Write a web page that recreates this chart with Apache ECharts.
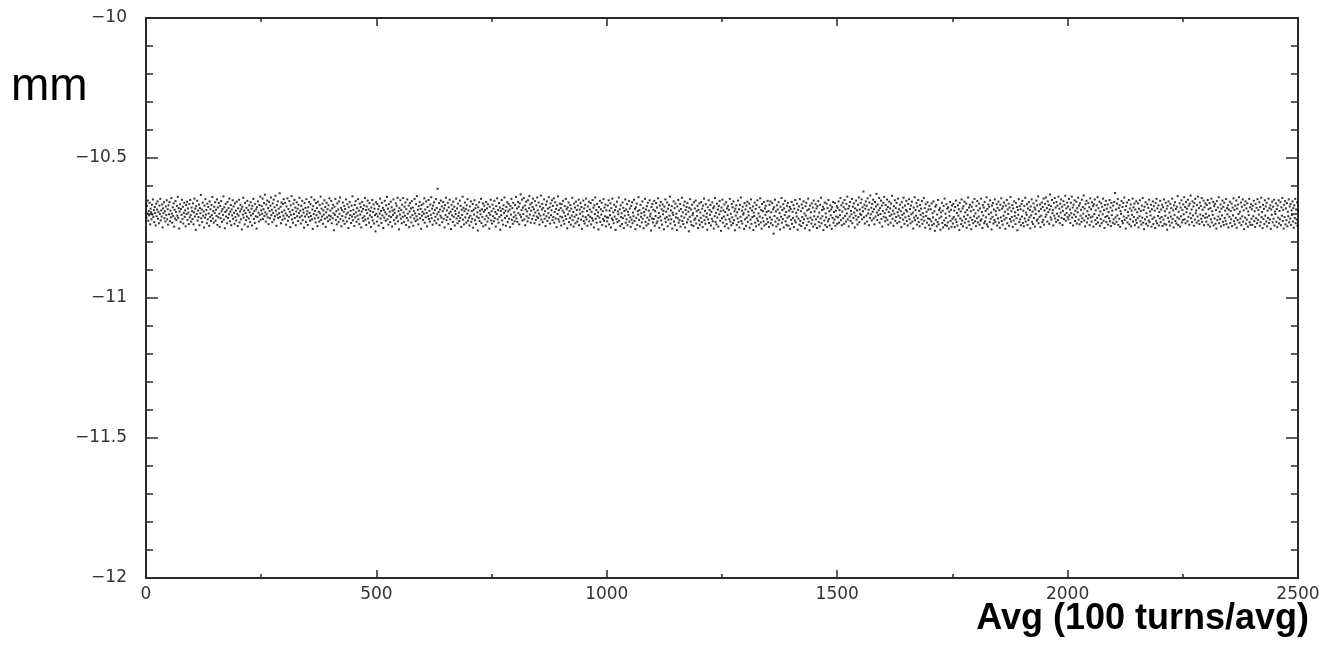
<!DOCTYPE html>
<html><head><meta charset="utf-8">
<script src="https://cdn.jsdelivr.net/npm/echarts@6/dist/echarts.min.js"></script>
<style>html,body{margin:0;padding:0;background:#fff}#c{width:1327px;height:647px}</style>
</head><body><div id="c"></div><script>
// Beam position (mm) per average, x = average index 1..2500
const seg1 = [
-10.713,-10.671,-10.698,-10.652,-10.724,-10.689,-10.705,-10.660,-10.737,-10.681,-10.694,-10.719,-10.667,-10.702,-10.648,-10.711,-10.686,-10.729,-10.675,-10.696,-10.741,-10.663,-10.708,-10.684,-10.655,-10.717,-10.692,-10.733,-10.670,-10.700,-10.646,-10.723,-10.687,-10.709,-10.666,-10.748,-10.680,-10.697,-10.658,-10.715,-10.690,-10.727,-10.673,-10.704,-10.651,-10.719,-10.683,-10.738,-10.669,-10.701,
-10.657,-10.726,-10.688,-10.712,-10.643,-10.699,-10.731,-10.676,-10.707,-10.662,-10.745,-10.685,-10.716,-10.654,-10.693,-10.722,-10.671,-10.706,-10.639,-10.714,-10.679,-10.752,-10.691,-10.665,-10.728,-10.682,-10.703,-10.649,-10.718,-10.674,-10.734,-10.696,-10.660,-10.710,-10.687,-10.744,-10.668,-10.700,-10.656,-10.721,-10.680,-10.695,-10.736,-10.664,-10.712,-10.650,-10.704,-10.727,-10.677,-10.690,
-10.718,-10.662,-10.737,-10.694,-10.645,-10.709,-10.681,-10.757,-10.672,-10.700,-10.653,-10.723,-10.688,-10.711,-10.666,-10.740,-10.679,-10.697,-10.632,-10.715,-10.684,-10.729,-10.659,-10.706,-10.691,-10.748,-10.670,-10.713,-10.647,-10.702,-10.686,-10.733,-10.663,-10.719,-10.675,-10.698,-10.742,-10.655,-10.710,-10.683,-10.725,-10.668,-10.704,-10.639,-10.716,-10.689,-10.731,-10.674,-10.696,-10.658,
-10.724,-10.685,-10.707,-10.648,-10.739,-10.677,-10.712,-10.661,-10.699,-10.746,-10.671,-10.715,-10.654,-10.690,-10.728,-10.682,-10.703,-10.637,-10.720,-10.676,-10.751,-10.693,-10.664,-10.709,-10.687,-10.733,-10.657,-10.714,-10.679,-10.701,-10.645,-10.726,-10.692,-10.668,-10.740,-10.684,-10.705,-10.651,-10.717,-10.673,-10.696,-10.735,-10.662,-10.711,-10.688,-10.723,-10.656,-10.700,-10.743,-10.680,
-10.706,-10.649,-10.730,-10.691,-10.667,-10.719,-10.683,-10.755,-10.674,-10.702,-10.642,-10.713,-10.688,-10.737,-10.660,-10.697,-10.722,-10.678,-10.709,-10.653,-10.745,-10.686,-10.716,-10.669,-10.694,-10.729,-10.658,-10.705,-10.681,-10.741,-10.671,-10.699,-10.646,-10.718,-10.690,-10.732,-10.664,-10.708,-10.684,-10.752,-10.676,-10.711,-10.655,-10.695,-10.727,-10.668,-10.703,-10.638,-10.720,-10.687,
-10.672,-10.699,-10.645,-10.718,-10.683,-10.661,-10.707,-10.631,-10.694,-10.727,-10.666,-10.701,-10.652,-10.712,-10.679,-10.736,-10.657,-10.690,-10.715,-10.670,-10.641,-10.704,-10.685,-10.729,-10.662,-10.696,-10.649,-10.720,-10.676,-10.708,-10.635,-10.688,-10.742,-10.668,-10.702,-10.655,-10.714,-10.681,-10.697,-10.626,-10.710,-10.674,-10.733,-10.659,-10.693,-10.721,-10.664,-10.706,-10.647,-10.687,
-10.716,-10.660,-10.698,-10.738,-10.673,-10.705,-10.644,-10.724,-10.682,-10.710,-10.654,-10.692,-10.747,-10.669,-10.703,-10.636,-10.719,-10.686,-10.731,-10.663,-10.700,-10.650,-10.714,-10.677,-10.740,-10.691,-10.658,-10.708,-10.681,-10.725,-10.667,-10.697,-10.642,-10.712,-10.688,-10.734,-10.671,-10.706,-10.653,-10.722,-10.684,-10.695,-10.749,-10.661,-10.709,-10.678,-10.728,-10.647,-10.701,-10.690,
-10.739,-10.676,-10.711,-10.657,-10.696,-10.724,-10.665,-10.707,-10.640,-10.719,-10.684,-10.753,-10.672,-10.700,-10.649,-10.716,-10.689,-10.730,-10.661,-10.704,-10.679,-10.743,-10.656,-10.713,-10.692,-10.727,-10.668,-10.698,-10.638,-10.721,-10.681,-10.709,-10.663,-10.735,-10.687,-10.702,-10.651,-10.717,-10.675,-10.746,-10.694,-10.660,-10.712,-10.683,-10.726,-10.669,-10.705,-10.644,-10.720,-10.688,
-10.708,-10.653,-10.733,-10.680,-10.715,-10.667,-10.697,-10.758,-10.674,-10.703,-10.646,-10.721,-10.690,-10.737,-10.662,-10.710,-10.684,-10.729,-10.655,-10.699,-10.641,-10.718,-10.678,-10.744,-10.686,-10.707,-10.659,-10.724,-10.692,-10.671,-10.735,-10.682,-10.712,-10.648,-10.701,-10.727,-10.665,-10.695,-10.750,-10.676,-10.716,-10.657,-10.704,-10.689,-10.732,-10.670,-10.709,-10.637,-10.722,-10.685,
-10.700,-10.743,-10.668,-10.712,-10.654,-10.694,-10.728,-10.679,-10.706,-10.647,-10.719,-10.688,-10.736,-10.663,-10.702,-10.675,-10.748,-10.691,-10.657,-10.714,-10.682,-10.725,-10.669,-10.708,-10.643,-10.720,-10.686,-10.739,-10.673,-10.697,-10.652,-10.716,-10.684,-10.731,-10.661,-10.705,-10.690,-10.746,-10.677,-10.711,-10.650,-10.723,-10.693,-10.666,-10.734,-10.681,-10.704,-10.762,-10.658,-10.699
];
const seg2 = [
-10.727,-10.664,-10.709,-10.683,-10.741,-10.672,-10.698,-10.645,-10.716,-10.689,-10.732,-10.660,-10.705,-10.678,-10.750,-10.686,-10.713,-10.653,-10.694,-10.724,-10.669,-10.701,-10.639,-10.719,-10.681,-10.738,-10.665,-10.707,-10.692,-10.729,-10.656,-10.711,-10.676,-10.745,-10.688,-10.703,-10.648,-10.722,-10.684,-10.696,-10.735,-10.662,-10.714,-10.671,-10.708,-10.642,-10.726,-10.690,-10.755,-10.679,
-10.702,-10.651,-10.717,-10.686,-10.733,-10.667,-10.710,-10.643,-10.695,-10.728,-10.674,-10.706,-10.659,-10.739,-10.683,-10.714,-10.648,-10.699,-10.723,-10.670,-10.747,-10.691,-10.661,-10.712,-10.680,-10.730,-10.654,-10.704,-10.677,-10.742,-10.689,-10.716,-10.646,-10.698,-10.725,-10.665,-10.708,-10.636,-10.720,-10.685,-10.737,-10.672,-10.700,-10.657,-10.715,-10.682,-10.753,-10.668,-10.706,-10.692,
-10.721,-10.663,-10.699,-10.644,-10.731,-10.684,-10.712,-10.655,-10.696,-10.744,-10.675,-10.708,-10.650,-10.718,-10.689,-10.727,-10.666,-10.703,-10.640,-10.715,-10.681,-10.738,-10.670,-10.697,-10.658,-10.724,-10.686,-10.710,-10.647,-10.733,-10.678,-10.701,-10.610,-10.719,-10.693,-10.661,-10.740,-10.684,-10.706,-10.652,-10.713,-10.673,-10.729,-10.690,-10.657,-10.717,-10.680,-10.748,-10.668,-10.704,
-10.642,-10.722,-10.687,-10.711,-10.660,-10.735,-10.676,-10.698,-10.649,-10.719,-10.692,-10.754,-10.667,-10.705,-10.683,-10.728,-10.656,-10.710,-10.674,-10.741,-10.689,-10.700,-10.645,-10.716,-10.680,-10.733,-10.663,-10.707,-10.695,-10.725,-10.652,-10.714,-10.671,-10.746,-10.685,-10.703,-10.638,-10.720,-10.678,-10.737,-10.690,-10.659,-10.712,-10.682,-10.731,-10.669,-10.699,-10.647,-10.724,-10.687,
-10.713,-10.741,-10.673,-10.706,-10.655,-10.728,-10.690,-10.717,-10.664,-10.749,-10.685,-10.702,-10.651,-10.722,-10.679,-10.736,-10.668,-10.709,-10.694,-10.759,-10.676,-10.714,-10.658,-10.725,-10.688,-10.701,-10.646,-10.732,-10.683,-10.711,-10.662,-10.744,-10.692,-10.670,-10.719,-10.686,-10.739,-10.657,-10.707,-10.680,-10.727,-10.665,-10.715,-10.696,-10.752,-10.674,-10.703,-10.649,-10.723,-10.690,
-10.734,-10.667,-10.708,-10.681,-10.726,-10.653,-10.715,-10.693,-10.745,-10.672,-10.700,-10.644,-10.719,-10.686,-10.731,-10.661,-10.710,-10.677,-10.756,-10.689,-10.704,-10.650,-10.723,-10.682,-10.738,-10.669,-10.696,-10.641,-10.714,-10.688,-10.742,-10.675,-10.707,-10.658,-10.729,-10.691,-10.664,-10.717,-10.684,-10.747,-10.671,-10.702,-10.646,-10.721,-10.679,-10.735,-10.660,-10.711,-10.694,-10.726,
-10.668,-10.705,-10.639,-10.716,-10.680,-10.728,-10.657,-10.697,-10.674,-10.737,-10.662,-10.703,-10.630,-10.711,-10.686,-10.649,-10.723,-10.677,-10.700,-10.643,-10.719,-10.670,-10.740,-10.684,-10.656,-10.708,-10.691,-10.726,-10.651,-10.714,-10.679,-10.636,-10.702,-10.666,-10.731,-10.688,-10.660,-10.718,-10.675,-10.645,-10.706,-10.683,-10.733,-10.654,-10.695,-10.721,-10.669,-10.709,-10.641,-10.687,
-10.714,-10.659,-10.699,-10.738,-10.673,-10.706,-10.634,-10.720,-10.684,-10.664,-10.729,-10.678,-10.702,-10.648,-10.717,-10.690,-10.743,-10.667,-10.708,-10.655,-10.725,-10.681,-10.697,-10.640,-10.713,-10.676,-10.734,-10.662,-10.704,-10.687,-10.651,-10.722,-10.671,-10.711,-10.644,-10.731,-10.693,-10.658,-10.716,-10.682,-10.747,-10.669,-10.700,-10.637,-10.719,-10.686,-10.727,-10.663,-10.709,-10.679,
-10.741,-10.665,-10.712,-10.688,-10.653,-10.724,-10.695,-10.735,-10.672,-10.707,-10.646,-10.718,-10.683,-10.751,-10.676,-10.701,-10.659,-10.729,-10.690,-10.714,-10.668,-10.738,-10.681,-10.706,-10.642,-10.722,-10.693,-10.745,-10.663,-10.710,-10.677,-10.733,-10.656,-10.703,-10.686,-10.727,-10.670,-10.716,-10.649,-10.740,-10.684,-10.699,-10.661,-10.720,-10.675,-10.753,-10.692,-10.708,-10.652,-10.725,
-10.680,-10.734,-10.667,-10.711,-10.645,-10.719,-10.689,-10.742,-10.673,-10.704,-10.656,-10.726,-10.684,-10.710,-10.661,-10.737,-10.692,-10.715,-10.650,-10.723,-10.678,-10.748,-10.669,-10.700,-10.641,-10.717,-10.686,-10.731,-10.664,-10.707,-10.694,-10.755,-10.675,-10.713,-10.653,-10.728,-10.683,-10.702,-10.660,-10.739,-10.690,-10.718,-10.647,-10.724,-10.677,-10.708,-10.666,-10.744,-10.687,-10.712
];
const seg3 = [
-10.726,-10.670,-10.713,-10.651,-10.737,-10.688,-10.704,-10.662,-10.748,-10.679,-10.716,-10.645,-10.722,-10.694,-10.733,-10.667,-10.709,-10.686,-10.757,-10.674,-10.718,-10.656,-10.729,-10.691,-10.701,-10.641,-10.724,-10.683,-10.743,-10.669,-10.711,-10.697,-10.736,-10.659,-10.715,-10.678,-10.750,-10.689,-10.706,-10.648,-10.731,-10.684,-10.719,-10.665,-10.740,-10.692,-10.703,-10.654,-10.727,-10.680,
-10.712,-10.746,-10.671,-10.720,-10.658,-10.733,-10.695,-10.708,-10.649,-10.725,-10.682,-10.754,-10.676,-10.714,-10.663,-10.739,-10.690,-10.702,-10.640,-10.721,-10.686,-10.744,-10.668,-10.710,-10.697,-10.730,-10.655,-10.717,-10.679,-10.751,-10.693,-10.705,-10.646,-10.728,-10.684,-10.741,-10.672,-10.713,-10.660,-10.735,-10.688,-10.722,-10.651,-10.708,-10.699,-10.759,-10.675,-10.716,-10.664,-10.730,
-10.685,-10.718,-10.653,-10.742,-10.690,-10.707,-10.661,-10.733,-10.677,-10.726,-10.644,-10.714,-10.696,-10.749,-10.670,-10.709,-10.657,-10.723,-10.683,-10.738,-10.666,-10.701,-10.689,-10.755,-10.674,-10.716,-10.648,-10.729,-10.692,-10.711,-10.659,-10.744,-10.681,-10.720,-10.668,-10.706,-10.638,-10.734,-10.687,-10.719,-10.672,-10.752,-10.695,-10.703,-10.655,-10.727,-10.679,-10.740,-10.663,-10.712,
-10.699,-10.757,-10.673,-10.715,-10.650,-10.731,-10.688,-10.722,-10.664,-10.745,-10.682,-10.708,-10.642,-10.725,-10.694,-10.736,-10.669,-10.713,-10.656,-10.748,-10.686,-10.701,-10.675,-10.730,-10.661,-10.719,-10.692,-10.762,-10.678,-10.710,-10.647,-10.727,-10.684,-10.739,-10.667,-10.704,-10.697,-10.743,-10.658,-10.721,-10.680,-10.716,-10.652,-10.734,-10.690,-10.707,-10.671,-10.750,-10.685,-10.723,
-10.662,-10.738,-10.695,-10.714,-10.657,-10.729,-10.681,-10.747,-10.670,-10.706,-10.645,-10.722,-10.689,-10.735,-10.665,-10.711,-10.698,-10.756,-10.676,-10.719,-10.651,-10.732,-10.686,-10.703,-10.668,-10.741,-10.692,-10.717,-10.659,-10.726,-10.679,-10.752,-10.673,-10.708,-10.643,-10.728,-10.696,-10.737,-10.663,-10.713,-10.684,-10.745,-10.671,-10.701,-10.654,-10.724,-10.690,-10.760,-10.677,-10.715,
-10.649,-10.731,-10.687,-10.709,-10.666,-10.744,-10.693,-10.720,-10.658,-10.736,-10.680,-10.704,-10.672,-10.751,-10.685,-10.718,-10.646,-10.727,-10.699,-10.740,-10.664,-10.712,-10.676,-10.733,-10.655,-10.722,-10.690,-10.758,-10.681,-10.706,-10.669,-10.739,-10.694,-10.716,-10.652,-10.729,-10.683,-10.748,-10.667,-10.710,-10.641,-10.725,-10.688,-10.734,-10.674,-10.702,-10.697,-10.753,-10.661,-10.719,
-10.684,-10.742,-10.670,-10.713,-10.656,-10.728,-10.692,-10.705,-10.663,-10.749,-10.679,-10.720,-10.648,-10.735,-10.687,-10.711,-10.673,-10.757,-10.695,-10.707,-10.659,-10.731,-10.682,-10.744,-10.668,-10.716,-10.651,-10.724,-10.698,-10.738,-10.676,-10.709,-10.644,-10.730,-10.686,-10.752,-10.664,-10.714,-10.690,-10.726,-10.657,-10.741,-10.680,-10.703,-10.671,-10.736,-10.693,-10.718,-10.653,-10.729,
-10.689,-10.746,-10.667,-10.712,-10.655,-10.733,-10.694,-10.720,-10.661,-10.740,-10.683,-10.770,-10.676,-10.707,-10.649,-10.727,-10.691,-10.744,-10.669,-10.715,-10.684,-10.736,-10.658,-10.722,-10.697,-10.755,-10.674,-10.710,-10.643,-10.731,-10.686,-10.718,-10.665,-10.748,-10.680,-10.704,-10.653,-10.726,-10.693,-10.739,-10.671,-10.713,-10.660,-10.742,-10.688,-10.708,-10.675,-10.753,-10.682,-10.721,
-10.657,-10.735,-10.692,-10.714,-10.668,-10.747,-10.681,-10.723,-10.650,-10.730,-10.696,-10.709,-10.663,-10.756,-10.685,-10.717,-10.673,-10.738,-10.647,-10.725,-10.690,-10.743,-10.666,-10.711,-10.679,-10.732,-10.655,-10.719,-10.698,-10.751,-10.672,-10.706,-10.660,-10.740,-10.687,-10.716,-10.645,-10.728,-10.683,-10.758,-10.670,-10.713,-10.694,-10.734,-10.662,-10.721,-10.677,-10.745,-10.652,-10.708,
-10.691,-10.737,-10.665,-10.719,-10.680,-10.750,-10.672,-10.710,-10.654,-10.729,-10.695,-10.744,-10.667,-10.716,-10.642,-10.733,-10.686,-10.708,-10.674,-10.757,-10.682,-10.723,-10.659,-10.739,-10.698,-10.712,-10.663,-10.746,-10.679,-10.726,-10.650,-10.718,-10.690,-10.741,-10.669,-10.705,-10.684,-10.753,-10.676,-10.714,-10.657,-10.731,-10.693,-10.720,-10.661,-10.742,-10.688,-10.709,-10.672,-10.735
];
const seg4 = [
-10.678,-10.712,-10.655,-10.731,-10.686,-10.704,-10.643,-10.722,-10.669,-10.740,-10.691,-10.660,-10.715,-10.676,-10.735,-10.650,-10.707,-10.683,-10.727,-10.664,-10.698,-10.638,-10.719,-10.681,-10.744,-10.672,-10.709,-10.657,-10.725,-10.689,-10.701,-10.646,-10.733,-10.674,-10.714,-10.662,-10.695,-10.748,-10.680,-10.706,-10.652,-10.720,-10.687,-10.737,-10.667,-10.711,-10.641,-10.729,-10.684,-10.699,
-10.661,-10.703,-10.648,-10.719,-10.676,-10.690,-10.620,-10.712,-10.667,-10.734,-10.681,-10.655,-10.706,-10.671,-10.727,-10.644,-10.698,-10.685,-10.740,-10.659,-10.714,-10.634,-10.701,-10.678,-10.723,-10.664,-10.692,-10.649,-10.716,-10.683,-10.737,-10.657,-10.709,-10.673,-10.628,-10.695,-10.722,-10.666,-10.704,-10.687,-10.643,-10.731,-10.679,-10.700,-10.652,-10.718,-10.670,-10.745,-10.689,-10.660,
-10.710,-10.639,-10.697,-10.726,-10.668,-10.713,-10.684,-10.648,-10.721,-10.675,-10.738,-10.693,-10.656,-10.707,-10.680,-10.731,-10.663,-10.702,-10.635,-10.717,-10.688,-10.742,-10.672,-10.699,-10.651,-10.724,-10.679,-10.711,-10.660,-10.733,-10.694,-10.645,-10.706,-10.683,-10.728,-10.667,-10.714,-10.690,-10.747,-10.658,-10.703,-10.677,-10.720,-10.642,-10.698,-10.735,-10.670,-10.712,-10.686,-10.653,
-10.725,-10.691,-10.741,-10.664,-10.708,-10.647,-10.719,-10.682,-10.733,-10.670,-10.701,-10.656,-10.727,-10.695,-10.752,-10.677,-10.713,-10.640,-10.722,-10.686,-10.706,-10.661,-10.738,-10.673,-10.715,-10.650,-10.729,-10.689,-10.744,-10.668,-10.703,-10.681,-10.720,-10.654,-10.735,-10.697,-10.710,-10.643,-10.724,-10.679,-10.749,-10.665,-10.707,-10.692,-10.731,-10.658,-10.716,-10.684,-10.740,-10.671,
-10.718,-10.753,-10.683,-10.726,-10.662,-10.740,-10.697,-10.712,-10.655,-10.735,-10.690,-10.760,-10.674,-10.721,-10.668,-10.744,-10.702,-10.729,-10.650,-10.737,-10.686,-10.715,-10.679,-10.756,-10.694,-10.709,-10.660,-10.732,-10.688,-10.748,-10.671,-10.723,-10.645,-10.739,-10.699,-10.714,-10.665,-10.742,-10.681,-10.730,-10.676,-10.752,-10.692,-10.707,-10.657,-10.725,-10.685,-10.746,-10.670,-10.717,
-10.734,-10.664,-10.711,-10.688,-10.747,-10.675,-10.720,-10.652,-10.729,-10.696,-10.741,-10.669,-10.706,-10.683,-10.757,-10.660,-10.716,-10.691,-10.736,-10.648,-10.723,-10.680,-10.744,-10.672,-10.709,-10.656,-10.731,-10.694,-10.718,-10.663,-10.749,-10.686,-10.704,-10.641,-10.727,-10.677,-10.739,-10.667,-10.713,-10.690,-10.754,-10.674,-10.721,-10.658,-10.733,-10.685,-10.708,-10.646,-10.726,-10.698,
-10.743,-10.671,-10.715,-10.654,-10.730,-10.687,-10.709,-10.663,-10.738,-10.680,-10.724,-10.645,-10.719,-10.693,-10.750,-10.668,-10.705,-10.677,-10.733,-10.657,-10.726,-10.689,-10.712,-10.640,-10.737,-10.682,-10.745,-10.666,-10.701,-10.674,-10.729,-10.651,-10.717,-10.695,-10.755,-10.670,-10.710,-10.661,-10.734,-10.684,-10.721,-10.648,-10.728,-10.690,-10.703,-10.665,-10.741,-10.678,-10.716,-10.656,
-10.731,-10.686,-10.749,-10.667,-10.712,-10.644,-10.725,-10.681,-10.738,-10.673,-10.706,-10.659,-10.720,-10.692,-10.753,-10.670,-10.714,-10.650,-10.733,-10.684,-10.700,-10.663,-10.742,-10.677,-10.718,-10.639,-10.727,-10.690,-10.711,-10.668,-10.746,-10.680,-10.723,-10.655,-10.707,-10.694,-10.736,-10.661,-10.715,-10.675,-10.758,-10.686,-10.703,-10.647,-10.729,-10.672,-10.719,-10.683,-10.740,-10.664,
-10.709,-10.653,-10.732,-10.688,-10.744,-10.671,-10.716,-10.642,-10.727,-10.695,-10.703,-10.665,-10.739,-10.680,-10.722,-10.657,-10.712,-10.686,-10.751,-10.673,-10.705,-10.648,-10.728,-10.691,-10.736,-10.662,-10.714,-10.677,-10.745,-10.684,-10.700,-10.652,-10.724,-10.669,-10.719,-10.637,-10.733,-10.690,-10.710,-10.666,-10.747,-10.682,-10.706,-10.659,-10.729,-10.675,-10.721,-10.645,-10.738,-10.687,
-10.664,-10.710,-10.641,-10.702,-10.679,-10.727,-10.655,-10.693,-10.668,-10.735,-10.684,-10.630,-10.712,-10.672,-10.720,-10.650,-10.697,-10.686,-10.741,-10.661,-10.706,-10.643,-10.716,-10.677,-10.728,-10.657,-10.699,-10.670,-10.722,-10.638,-10.708,-10.681,-10.733,-10.663,-10.695,-10.648,-10.714,-10.674,-10.739,-10.689,-10.654,-10.718,-10.667,-10.703,-10.635,-10.724,-10.680,-10.697,-10.659,-10.711
];
const seg5 = [
-10.673,-10.719,-10.646,-10.705,-10.684,-10.732,-10.660,-10.697,-10.638,-10.713,-10.677,-10.741,-10.667,-10.702,-10.651,-10.725,-10.688,-10.710,-10.656,-10.734,-10.679,-10.694,-10.642,-10.720,-10.670,-10.737,-10.662,-10.706,-10.685,-10.728,-10.649,-10.715,-10.675,-10.699,-10.634,-10.723,-10.681,-10.744,-10.665,-10.708,-10.653,-10.730,-10.690,-10.716,-10.661,-10.703,-10.676,-10.739,-10.644,-10.712,
-10.683,-10.727,-10.658,-10.709,-10.672,-10.745,-10.665,-10.700,-10.648,-10.722,-10.687,-10.736,-10.669,-10.714,-10.640,-10.730,-10.679,-10.705,-10.656,-10.742,-10.691,-10.718,-10.662,-10.733,-10.674,-10.701,-10.645,-10.724,-10.686,-10.750,-10.668,-10.711,-10.653,-10.729,-10.681,-10.707,-10.666,-10.738,-10.693,-10.715,-10.650,-10.726,-10.677,-10.743,-10.660,-10.704,-10.688,-10.731,-10.670,-10.719,
-10.657,-10.736,-10.625,-10.712,-10.684,-10.728,-10.663,-10.705,-10.647,-10.739,-10.679,-10.717,-10.669,-10.746,-10.690,-10.700,-10.654,-10.725,-10.675,-10.733,-10.661,-10.709,-10.641,-10.721,-10.686,-10.752,-10.672,-10.714,-10.659,-10.730,-10.693,-10.706,-10.650,-10.737,-10.680,-10.719,-10.666,-10.744,-10.688,-10.703,-10.645,-10.727,-10.676,-10.711,-10.663,-10.740,-10.684,-10.722,-10.655,-10.732,
-10.694,-10.715,-10.662,-10.748,-10.681,-10.708,-10.651,-10.726,-10.689,-10.738,-10.670,-10.713,-10.643,-10.731,-10.686,-10.754,-10.674,-10.719,-10.658,-10.735,-10.697,-10.710,-10.665,-10.742,-10.678,-10.723,-10.649,-10.729,-10.691,-10.705,-10.667,-10.745,-10.683,-10.717,-10.655,-10.736,-10.672,-10.712,-10.688,-10.750,-10.660,-10.724,-10.646,-10.733,-10.680,-10.707,-10.669,-10.741,-10.693,-10.716,
-10.653,-10.729,-10.684,-10.711,-10.667,-10.743,-10.676,-10.720,-10.648,-10.735,-10.690,-10.706,-10.660,-10.738,-10.681,-10.756,-10.671,-10.714,-10.655,-10.727,-10.695,-10.741,-10.664,-10.709,-10.679,-10.731,-10.645,-10.718,-10.687,-10.748,-10.669,-10.703,-10.658,-10.725,-10.682,-10.734,-10.674,-10.712,-10.636,-10.739,-10.692,-10.717,-10.662,-10.745,-10.677,-10.708,-10.651,-10.730,-10.686,-10.721,
-10.666,-10.701,-10.640,-10.719,-10.675,-10.733,-10.657,-10.694,-10.681,-10.726,-10.649,-10.710,-10.670,-10.738,-10.663,-10.698,-10.634,-10.715,-10.684,-10.729,-10.655,-10.705,-10.673,-10.742,-10.661,-10.720,-10.646,-10.697,-10.687,-10.731,-10.668,-10.709,-10.638,-10.724,-10.679,-10.736,-10.659,-10.702,-10.671,-10.717,-10.643,-10.728,-10.685,-10.706,-10.652,-10.740,-10.676,-10.713,-10.662,-10.699,
-10.727,-10.668,-10.712,-10.650,-10.738,-10.683,-10.706,-10.661,-10.745,-10.679,-10.719,-10.645,-10.730,-10.690,-10.703,-10.657,-10.741,-10.672,-10.716,-10.664,-10.735,-10.686,-10.752,-10.654,-10.722,-10.677,-10.709,-10.640,-10.733,-10.692,-10.718,-10.666,-10.744,-10.681,-10.705,-10.652,-10.728,-10.674,-10.739,-10.660,-10.714,-10.688,-10.724,-10.647,-10.736,-10.679,-10.701,-10.669,-10.748,-10.684,
-10.710,-10.656,-10.732,-10.689,-10.719,-10.663,-10.743,-10.677,-10.705,-10.644,-10.726,-10.685,-10.737,-10.670,-10.714,-10.652,-10.749,-10.681,-10.722,-10.666,-10.700,-10.640,-10.731,-10.692,-10.716,-10.659,-10.740,-10.674,-10.708,-10.648,-10.727,-10.687,-10.754,-10.668,-10.713,-10.655,-10.735,-10.680,-10.720,-10.662,-10.745,-10.691,-10.704,-10.646,-10.729,-10.676,-10.738,-10.665,-10.717,-10.683,
-10.739,-10.671,-10.708,-10.653,-10.725,-10.690,-10.746,-10.664,-10.715,-10.678,-10.733,-10.647,-10.721,-10.686,-10.702,-10.658,-10.742,-10.675,-10.729,-10.642,-10.711,-10.693,-10.750,-10.667,-10.718,-10.682,-10.736,-10.651,-10.706,-10.673,-10.727,-10.660,-10.744,-10.688,-10.714,-10.645,-10.732,-10.679,-10.720,-10.669,-10.753,-10.684,-10.703,-10.656,-10.730,-10.674,-10.717,-10.649,-10.741,-10.691,
-10.700,-10.662,-10.728,-10.682,-10.747,-10.670,-10.713,-10.651,-10.734,-10.689,-10.719,-10.658,-10.740,-10.676,-10.706,-10.643,-10.725,-10.685,-10.752,-10.667,-10.711,-10.654,-10.737,-10.680,-10.722,-10.661,-10.744,-10.692,-10.708,-10.648,-10.730,-10.673,-10.716,-10.664,-10.739,-10.687,-10.703,-10.655,-10.727,-10.679,-10.749,-10.669,-10.714,-10.646,-10.733,-10.684,-10.720,-10.659,-10.742,-10.688
];
const xTickValues = [0, 500, 1000, 1500, 2000, 2500];
const yTickValues = [-12, -11.5, -11, -10.5, -10];
const yTitle = 'mm';
const xTitle = 'Avg (100 turns/avg)';

const values = [].concat(seg1, seg2, seg3, seg4, seg5);
const points = values.map((v, i) => [i + 1, v]);

const AX = '#2a2a2a';
const minus = v => String(v).replace('-', '\u2212');
function xAx(pos, showLabel) {
  return {
    type: 'value', position: pos, min: xTickValues[0], max: xTickValues[xTickValues.length - 1],
    interval: xTickValues[1] - xTickValues[0],
    axisLine: { show: true, onZero: false, lineStyle: { color: AX, width: 2 } },
    axisTick: { show: true, inside: true, length: 8, lineStyle: { color: AX, width: 1.5 } },
    minorTick: { show: true, splitNumber: 2, length: 4, lineStyle: { color: AX, width: 1.5 } },
    axisLabel: { show: showLabel, color: '#333', fontSize: 17, margin: 8, fontFamily: 'DejaVu Sans', formatter: v => String(v) },
    splitLine: { show: false }, minorSplitLine: { show: false }
  };
}
function yAx(pos, showLabel) {
  return {
    type: 'value', position: pos, min: yTickValues[0], max: yTickValues[yTickValues.length - 1],
    interval: yTickValues[1] - yTickValues[0],
    axisLine: { show: true, onZero: false, lineStyle: { color: AX, width: 2 } },
    axisTick: { show: true, inside: true, length: 12, lineStyle: { color: AX, width: 1.5 } },
    minorTick: { show: true, splitNumber: 5, length: 7, lineStyle: { color: AX, width: 1.5 } },
    axisLabel: { show: showLabel, color: '#333', fontSize: 17, margin: 19, fontFamily: 'DejaVu Sans', formatter: minus },
    splitLine: { show: false }, minorSplitLine: { show: false }
  };
}
const chart = echarts.init(document.getElementById('c'), null, { renderer: 'canvas' });
chart.setOption({
  animation: false,
  backgroundColor: '#fff',
  grid: { left: 146, right: 29, top: 18, bottom: 69, containLabel: false },
  xAxis: [xAx('bottom', true), xAx('top', false)],
  yAxis: [yAx('left', true), yAx('right', false)],
  series: [{
    type: 'scatter', xAxisIndex: 0, yAxisIndex: 0,
    data: points, symbol: 'rect', symbolSize: 2,
    itemStyle: { color: '#000' }, silent: true
  }],
  graphic: [
    { type: 'text', left: 11, top: 64, style: { text: yTitle, fontSize: 46, fontFamily: 'Liberation Sans, Arial, sans-serif', fill: '#000' } },
    { type: 'text', right: 18, top: 601, style: { text: xTitle, fontSize: 36, fontWeight: 'bold', fontFamily: 'Liberation Sans, Arial, sans-serif', fill: '#000' } }
  ]
});
</script></body></html>
